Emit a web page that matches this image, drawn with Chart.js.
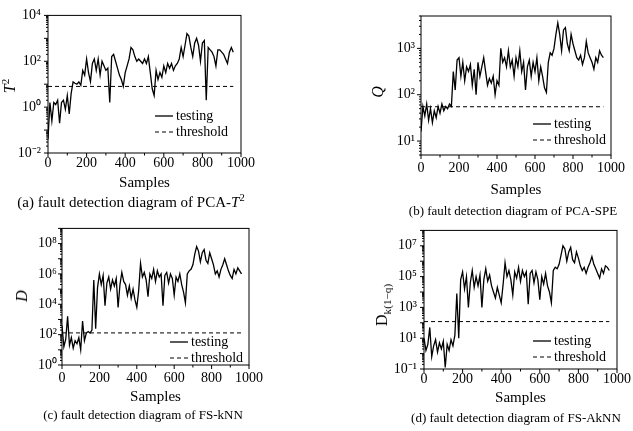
<!DOCTYPE html>
<html>
<head>
<meta charset="utf-8">
<script src="https://cdn.jsdelivr.net/npm/chart.js@4"></script>
<style>
body{margin:0;background:#fff;font-family:"Liberation Serif",serif;color:#000;}
#page{position:relative;width:633px;height:431px;overflow:hidden;background:#fff;}
.box{position:absolute;}
.ytitle{position:absolute;font-size:16px;line-height:18px;white-space:nowrap;transform:translate(-50%,-50%) rotate(-90deg);}
.cap{position:absolute;font-size:14px;line-height:16px;white-space:nowrap;transform:translateX(-50%);}
sup,sub{font-size:70%;line-height:0;}
</style>
</head>
<body>
<div id="page">
  <div class="box" style="left:0;top:0;width:260px;height:200px"><canvas id="chartA"></canvas></div>
  <div class="box" style="left:360px;top:0;width:270px;height:210px"><canvas id="chartB"></canvas></div>
  <div class="box" style="left:0;top:215px;width:268px;height:200px"><canvas id="chartC"></canvas></div>
  <div class="box" style="left:360px;top:215px;width:273px;height:200px"><canvas id="chartD"></canvas></div>

  <div class="ytitle" style="left:10px;top:86px"><i>T</i><sup>2</sup></div>
  <div class="ytitle" style="left:378px;top:92px"><i>Q</i></div>
  <div class="ytitle" style="left:22px;top:296px"><i>D</i></div>
  <div class="ytitle" style="left:382px;top:305px">D<sub>k(1−q)</sub></div>

  <div class="cap" style="left:131px;top:194px;font-size:15px">(a) fault detection diagram of PCA-<i>T</i><sup>2</sup></div>
  <div class="cap" style="left:513px;top:203px;font-size:13px">(b) fault detection diagram of PCA-SPE</div>
  <div class="cap" style="left:143px;top:407px;font-size:13px">(c) fault detection diagram of FS-kNN</div>
  <div class="cap" style="left:516px;top:410px;font-size:13px">(d) fault detection diagram of FS-AkNN</div>
</div>
<script>
const FONT = '"Liberation Serif", serif';

// sample index (every 10th sample)
const samples = [0,10,20,30,40,50,60,70,80,90,
  100,110,120,130,140,150,160,170,180,190,
  200,210,220,230,240,250,260,270,280,290,
  300,310,320,330,340,350,360,370,380,390,
  400,410,420,430,440,450,460,470,480,490,
  500,510,520,530,540,550,560,570,580,590,
  600,610,620,630,640,650,660,670,680,690,
  700,710,720,730,740,750,760,770,780,790,
  800,810,820,830,840,850,860,870,880,890,
  900,910,920,930,940,950,960];

// (a) PCA-T2
const testA = [0.04,1.6,0.25,1.6,1.3,2,0.2,1.6,2,0.8,
  3.2,0.5,4,12.6,11,10,12.6,9,40,25,
  126,32,13,80,126,40,126,25,100,63,
  40,50,1.6,160,200,100,50,25,16,8,
  32,63,126,400,316,160,100,126,100,80,
  126,80,160,32,6.3,3.2,40,16,32,20,
  63,32,80,50,80,40,63,80,126,400,
  160,500,1600,1260,400,160,630,1000,500,100,
  630,800,2,400,316,250,160,63,316,316,
  250,200,126,80,250,400,250];
const limitA = 8;

// (b) PCA-SPE
const testB = [16,56,35,63,28,50,25,45,32,56,
  40,63,45,56,50,63,56,316,126,560,
  630,250,500,200,400,316,450,160,355,100,
  500,250,400,630,316,160,224,178,250,100,
  200,160,1000,500,630,400,890,400,560,250,
  630,400,890,316,500,126,400,560,250,500,
  316,630,200,400,250,141,112,500,800,710,
  1000,2000,3550,2000,890,2500,2800,1260,890,2000,
  1260,890,630,560,710,450,630,1410,800,630,
  500,355,630,500,890,710,630];
const limitB = 55;

// (c) FS-kNN
const testC = [400,16,50,1600,20,63,13,40,25,63,
  10,800,40,126,160,126,200,4e5,250,1.26e5,
  1e6,2e5,8e5,8e3,2.5e5,6.3e5,1e5,4e5,1.6e5,5e5,
  6.3e3,2e5,1.26e6,3.2e5,2e5,4e4,1.6e5,2.5e4,1e5,2e4,
  6.3e3,8e4,5e6,6.3e5,1.26e6,4e5,3.2e4,1e6,5e5,2e6,
  3.2e5,1.6e6,6.3e5,1e6,8e3,8e5,1.26e6,2.5e5,1e6,5e5,
  4e4,6.3e5,3.2e5,1e6,2e5,6.3e4,1.26e4,1e6,1.6e6,2e6,
  4e6,2e7,6.3e7,3.2e7,6.3e6,2.5e7,4e7,8e6,5e6,2.5e7,
  1e7,4e6,1e6,1.6e6,6.3e5,2e6,4e6,1e7,4e6,1.6e6,
  8e5,5e5,2e6,1e6,2.5e6,1.6e6,1e6];
const limitC = 130;

// (d) FS-AkNN
const testD = [10,1.6,4,50,0.63,3.2,8,1.26,5,2,
  6.3,0.126,4,1.6,8,3.2,16,8e3,10,6.3e4,
  2e5,1.6e4,1e5,1e3,4e4,2.5e5,2e4,1e5,2.5e4,1.26e5,
  1e3,6.3e4,3.2e5,5e4,1.26e5,2.5e4,1e4,4e3,2e4,6.3e3,
  2e3,3.2e4,8e5,1e5,2.5e5,6.3e4,6.3e3,2e5,8e4,4e5,
  5e4,2.5e5,1e5,2e5,1.6e3,1.6e5,2.5e5,4e4,2e5,6.3e4,
  3.2e3,1e5,3.2e4,1.6e5,2.5e4,1e4,2e3,2.5e5,4e5,3.2e5,
  6.3e5,2.5e6,1e7,6.3e6,1e6,4e6,8e6,1.26e6,8e5,4e6,
  1.6e6,5e5,2.5e5,4e5,1.6e5,4e5,8e5,2e6,6.3e5,3.2e5,
  1.6e5,8e4,3.2e5,1.6e5,5e5,4e5,2.5e5];
const limitD = 120;

// y tick labels
const yTicksA = [1e-2, 1, 1e2, 1e4];
const yLabelsA = ['10⁻²', '10⁰', '10²', '10⁴'];
const yTicksB = [10, 100, 1000];
const yLabelsB = ['10¹', '10²', '10³'];
const yTicksC = [1, 1e2, 1e4, 1e6, 1e8];
const yLabelsC = ['10⁰', '10²', '10⁴', '10⁶', '10⁸'];
const yTicksD = [0.1, 10, 1e3, 1e5, 1e7];
const yLabelsD = ['10⁻¹', '10¹', '10³', '10⁵', '10⁷'];
const xLabelStep = 200;

// box + outward tick marks
const framePlugin = {
  id: 'frame',
  afterDatasetsDraw(chart) {
    const {ctx, chartArea: a, scales} = chart;
    ctx.save();
    ctx.strokeStyle = '#000';
    ctx.lineWidth = 1;
    ctx.strokeRect(a.left, a.top, a.right - a.left, a.bottom - a.top);
    ctx.beginPath();
    scales.x.ticks.forEach(t => {
      const px = scales.x.getPixelForValue(t.value);
      const len = t.value % xLabelStep === 0 ? 4 : 2.5;
      ctx.moveTo(px, a.bottom);
      ctx.lineTo(px, a.bottom + len);
    });
    scales.y.ticks.forEach(t => {
      const e = Math.floor(Math.log10(t.value) + 1e-9);
      const m = t.value / Math.pow(10, e);
      if (Math.abs(m - Math.round(m)) > 1e-6) return;
      const py = scales.y.getPixelForValue(t.value);
      const len = Math.round(m) === 1 ? 4 : 2;
      ctx.moveTo(a.left, py);
      ctx.lineTo(a.left - len, py);
    });
    ctx.stroke();
    ctx.restore();
  }
};

// legend inside the plot
const innerLegend = {
  id: 'innerLegend',
  afterDraw(chart, args, opts) {
    const ctx = chart.ctx;
    const sets = chart.data.datasets.slice().reverse();
    ctx.save();
    ctx.font = '14px ' + FONT;
    ctx.fillStyle = '#000';
    ctx.textBaseline = 'middle';
    sets.forEach((ds, i) => {
      const y = opts.y + i * 16;
      ctx.beginPath();
      ctx.strokeStyle = '#000';
      ctx.lineWidth = ds.borderWidth;
      ctx.setLineDash(ds.borderDash || []);
      ctx.moveTo(opts.x, y);
      ctx.lineTo(opts.x + 18, y);
      ctx.stroke();
      ctx.setLineDash([]);
      ctx.fillText(ds.label, opts.x + 21, y);
    });
    ctx.restore();
  }
};

function makeChart(id, cfg) {
  const near = (v, list) => list.findIndex(t => Math.abs(Math.log10(v) - Math.log10(t)) < 1e-6);
  return new Chart(document.getElementById(id), {
    type: 'line',
    data: {
      datasets: [{
        label: 'threshold',
        data: [{x: samples[0], y: cfg.limit}, {x: samples[samples.length - 1], y: cfg.limit}],
        borderColor: '#000',
        borderWidth: 1,
        borderDash: [4, 3],
        pointRadius: 0
      }, {
        label: 'testing',
        data: samples.map((s, i) => ({x: s, y: cfg.values[i]})),
        borderColor: '#000',
        borderWidth: 1.3,
        pointRadius: 0,
        tension: 0
      }]
    },
    options: {
      responsive: true,
      maintainAspectRatio: false,
      animation: false,
      layout: {padding: {top: cfg.padTop, right: cfg.padRight, left: 0, bottom: 0}},
      plugins: {
        legend: {display: false},
        tooltip: {enabled: false},
        innerLegend: {x: cfg.legX, y: cfg.legY}
      },
      scales: {
        x: {
          type: 'linear', min: 0, max: 1000,
          grid: {display: false, drawTicks: false},
          border: {display: false},
          ticks: {
            stepSize: 100, autoSkip: false, maxRotation: 0, padding: cfg.xPad,
            color: '#000', font: {family: FONT, size: 14},
            callback: v => (v % xLabelStep === 0 ? String(v) : '')
          },
          title: {display: true, text: 'Samples', color: '#000',
            font: {family: FONT, size: 15}, padding: {top: 0, bottom: cfg.titlePad}},
          afterFit: s => { s.height = cfg.xHeight; }
        },
        y: {
          type: 'logarithmic', min: cfg.min, max: cfg.max,
          grid: {display: false, drawTicks: false},
          border: {display: false},
          ticks: {
            autoSkip: false, padding: cfg.yPad, color: '#000',
            font: {family: FONT, size: 14},
            callback: v => { const k = near(v, cfg.tickVals); return k >= 0 ? cfg.tickLabels[k] : ''; }
          },
          afterFit: s => { s.width = cfg.yWidth; }
        }
      }
    },
    plugins: [framePlugin, innerLegend]
  });
}

makeChart('chartA', {values: testA, limit: limitA, min: 1e-2, max: 1e4,
  tickVals: yTicksA, tickLabels: yLabelsA,
  padTop: 13, padRight: 19, yWidth: 48, xHeight: 47, xPad: 2, yPad: 7, titlePad: 8,
  legX: 155, legY: 116});
makeChart('chartB', {values: testB, limit: limitB, min: 5, max: 5000,
  tickVals: yTicksB, tickLabels: yLabelsB,
  padTop: 16, padRight: 19, yWidth: 61, xHeight: 55, xPad: 5, yPad: 6, titlePad: 11,
  legX: 173, legY: 124});
makeChart('chartC', {values: testC, limit: limitC, min: 1, max: 1e9,
  tickVals: yTicksC, tickLabels: yLabelsC,
  padTop: 13, padRight: 17, yWidth: 62, xHeight: 50, xPad: 5, yPad: 5, titlePad: 9,
  legX: 170, legY: 127});
makeChart('chartD', {values: testD, limit: limitD, min: 0.1, max: 1e8,
  tickVals: yTicksD, tickLabels: yLabelsD,
  padTop: 13, padRight: 15, yWidth: 64, xHeight: 46, xPad: 2, yPad: 7, titlePad: 8,
  legX: 173, legY: 126});
</script>
</body>
</html>
